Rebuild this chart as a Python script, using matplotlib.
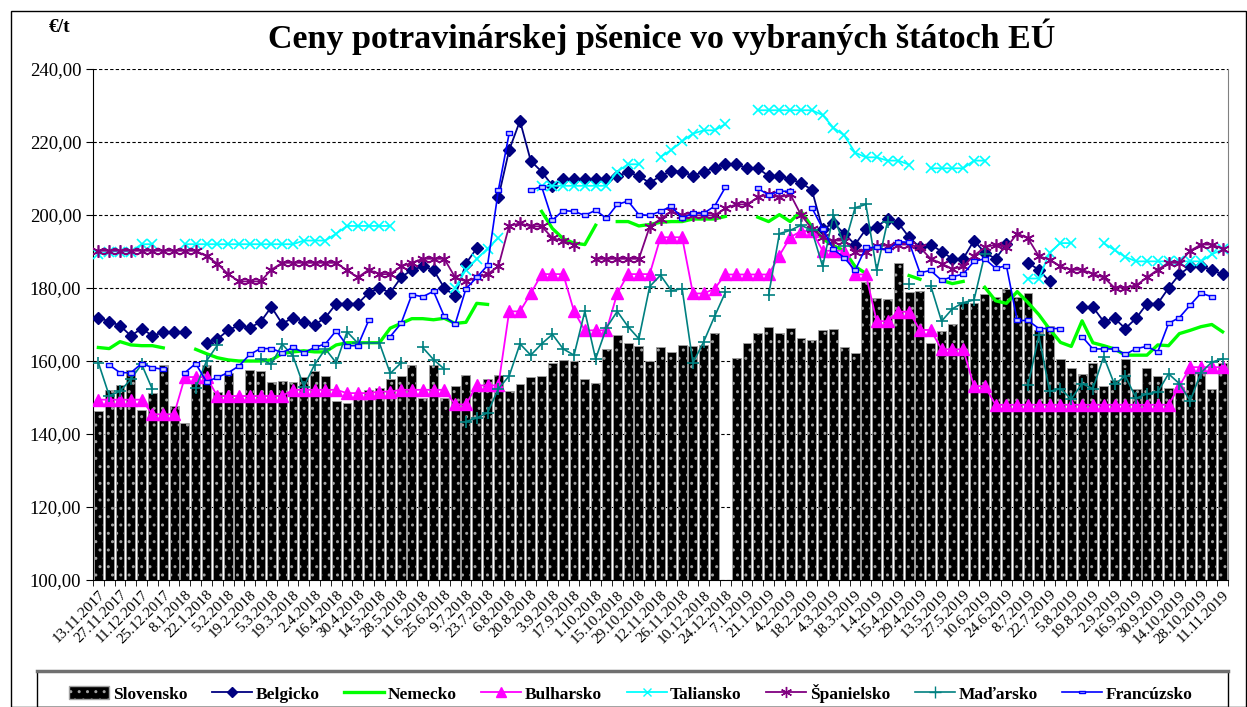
import matplotlib
matplotlib.use("Agg")
import matplotlib.pyplot as plt
import numpy as np
from matplotlib.patches import Rectangle, Patch
from matplotlib.lines import Line2D

nan = np.nan

# tyzdenne ceny €/t, 13.11.2017 - 11.11.2019 (105 tyzdnov)
slovensko = [146.3, 152.1, 153.4, 157.5, 146.7, 151.3, 159.0, 147.6, 143.1, 154.4,
             159.0, 151.6, 156.7, 150.0, 157.4, 157.2, 154.2, 154.5, 154.2, 155.5,
             157.3, 156.0, 149.1, 148.5, 149.6, 152.1, 152.7, 155.2, 155.9, 159.0,
             150.0, 159.0, 149.8, 153.1, 156.2, 151.9, 155.2, 156.2, 151.7, 153.6,
             155.5, 155.9, 159.5, 160.4, 159.9, 155.0, 154.0, 163.4, 167.0, 164.9,
             164.2, 160.1, 163.9, 162.5, 164.4, 164.2, 164.4, 167.8, nan, 160.9,
             164.8, 167.6, 169.4, 167.8, 169.1, 166.2, 165.8, 168.5, 168.8, 163.9,
             162.1, 181.7, 177.3, 176.9, 186.8, 179.0, 179.3, 164.9, 168.1, 170.1,
             176.1, 176.0, 178.4, 177.5, 179.8, 177.4, 178.5, 168.6, 169.6, 160.6,
             158.1, 156.5, 159.5, 153.1, 154.8, 160.6, 152.4, 158.1, 155.9, 152.7,
             153.0, 157.1, 157.8, 152.4, 159.5]

belgicko = [171.9, 170.8, 169.7, 166.9, 168.9, 166.9, 167.9, 167.9, 167.9, nan,
            165.0, 166.0, 168.4, 169.8, 169.1, 170.7, 174.8, 170.2, 171.9, 170.8,
            169.9, 171.9, 175.7, 175.7, 175.7, 178.7, 180.0, 178.7, 182.9, 185.0,
            185.9, 185.0, 180.0, 177.8, 186.7, 190.9, nan, 204.8, 217.8, 225.8,
            214.8, 211.9, 208.0, 209.8, 209.8, 209.8, 209.8, 209.8, 210.7, 211.7,
            210.7, 208.8, 210.7, 212.0, 211.9, 210.7, 211.9, 213.0, 214.0, 214.0,
            212.8, 212.8, 210.7, 210.7, 209.8, 208.8, 206.9, 196.1, 197.8, 194.9,
            191.9, 196.1, 196.8, 198.9, 197.8, 193.9, 191.1, 191.9, 190.0, 188.0,
            188.0, 193.0, 189.7, 188.0, 192.0, nan, 186.9, 185.0, 181.8, nan,
            nan, 174.8, 174.8, 170.8, 171.7, 168.9, 171.7, 175.7, 175.7, 180.0,
            183.7, 185.9, 185.9, 185.0, 183.7]

nemecko = [163.7, 163.4, 165.3, 164.4, 164.2, 164.2, 163.6, nan, nan, 163.2,
           162.0, 160.9, 160.3, 160.0, 160.0, 160.0, 160.3, 162.0, 162.5, 162.8,
           162.5, 162.5, 164.4, 165.0, 165.0, 165.0, 165.0, 169.0, 170.3, 171.6,
           171.6, 171.3, 171.7, 170.3, 170.6, 175.8, 175.5, nan, nan, nan,
           nan, 201.0, 196.3, 193.5, 192.3, 191.9, 197.2, nan, 198.2, 198.2,
           197.0, 197.4, 198.0, 198.2, 198.2, 198.9, 198.9, 198.9, 199.6, nan,
           nan, 199.4, 198.2, 200.1, 198.2, 201.0, 196.8, 193.5, 191.6, 190.2,
           185.9, 184.0, nan, nan, nan, 183.4, 182.4, nan, 182.1, 181.2,
           181.8, nan, 180.2, 176.5, 175.8, 179.0, 176.0, 172.7, 168.7, 165.1,
           164.0, 171.0, 165.0, 164.2, 163.3, 161.6, 161.6, 161.6, 164.4, 164.2,
           167.5, 168.4, 169.4, 170.0, 168.0]

bulharsko = [149.4, 149.4, 149.4, 149.4, 149.4, 145.4, 145.4, 145.4, 155.6, 155.6,
             155.6, 150.4, 150.4, 150.4, 150.4, 150.4, 150.4, 150.4, 152.1, 152.1,
             152.1, 152.1, 152.1, 151.2, 151.2, 151.2, 151.6, 151.6, 152.1, 152.1,
             152.1, 152.1, 152.1, 148.1, 148.1, 153.3, 153.3, 153.3, 173.6, 173.6,
             178.5, 183.8, 183.8, 183.8, 173.6, 168.4, 168.4, 168.4, 178.5, 183.8,
             183.8, 183.8, 193.9, 193.9, 193.9, 178.5, 178.5, 179.8, 183.7, 183.7,
             183.7, 183.7, 183.7, 188.9, 193.9, 195.6, 195.6, 190.2, 190.2, 190.2,
             183.7, 183.7, 170.9, 170.9, 173.5, 173.5, 168.5, 168.5, 163.2, 163.2,
             163.2, 153.1, 153.1, 148.0, 148.0, 148.0, 148.0, 148.0, 148.0, 148.0,
             148.0, 148.0, 148.0, 148.0, 148.0, 148.0, 148.0, 148.0, 148.0, 148.0,
             153.1, 158.3, 158.3, 158.3, 158.3]

taliansko = [189.2, 190.0, 190.0, 190.0, 192.0, 192.0, nan, nan, 192.0, 192.0,
             192.0, 192.0, 192.0, 192.0, 192.0, 192.0, 192.0, 192.0, 192.0, 193.0,
             193.0, 193.0, 194.9, 197.0, 197.0, 197.0, 197.0, 197.0, nan, nan,
             nan, nan, nan, 180.0, 185.0, 188.0, 190.8, 193.7, nan, nan,
             nan, 208.0, 208.0, 208.0, 208.0, 208.0, 208.0, 208.0, 211.9, 213.9,
             213.9, nan, 215.9, 217.8, 220.2, 222.3, 223.2, 223.2, 224.9, nan,
             nan, 228.7, 228.7, 228.7, 228.7, 228.7, 228.7, 227.4, 223.9, 221.8,
             217.1, 215.8, 215.8, 214.9, 214.9, 213.8, nan, 212.8, 212.8, 212.8,
             212.8, 214.9, 214.9, nan, nan, nan, 182.6, 182.6, 189.7, 192.3,
             192.3, nan, nan, 192.3, 190.4, 188.5, 187.3, 187.3, 187.3, 187.3,
             187.3, 187.3, 187.3, 189.2, 190.6]

spanielsko = [190.2, 190.2, 190.2, 190.2, 190.2, 190.2, 190.2, 190.2, 190.2, 190.2,
              188.7, 186.7, 183.8, 181.8, 181.8, 181.8, 185.0, 186.9, 186.9, 186.9,
              186.9, 186.9, 186.9, 184.8, 182.9, 185.0, 183.8, 183.8, 185.9, 186.9,
              188.0, 188.0, 188.0, 182.9, 181.8, 182.9, 183.8, 185.9, 197.0, 197.7,
              196.9, 196.9, 193.7, 192.8, 191.9, nan, 188.0, 188.0, 188.0, 188.0,
              188.0, 196.8, 198.9, 201.0, 200.0, 199.9, 199.9, 199.9, 201.8, 202.9,
              202.9, 204.8, 205.7, 204.8, 205.7, 200.0, 196.3, 193.9, 193.0, 193.0,
              190.0, 190.0, 191.6, 191.6, 191.9, 191.9, 191.1, 188.0, 186.7, 185.2,
              185.9, 188.9, 191.1, 191.9, 191.1, 194.9, 193.6, 188.7, 187.8, 185.9,
              185.0, 185.0, 183.8, 182.9, 180.1, 180.1, 180.7, 182.9, 185.0, 186.9,
              186.9, 190.2, 191.9, 191.9, 190.8]

madarsko = [159.5, 150.5, 151.7, 155.0, 159.1, 152.2, nan, nan, nan, 152.7,
            160.0, 164.3, nan, nan, nan, 160.5, 159.1, 164.6, 161.4, 153.0,
            159.0, 163.3, 159.5, 168.0, 164.9, 164.9, 164.9, 156.6, 159.5, nan,
            163.7, 160.4, 157.8, nan, 143.4, 144.4, 145.8, 152.4, 155.9, 164.7,
            161.6, 164.7, 167.3, 163.3, 161.6, 173.6, 160.6, 169.1, 173.6, 169.4,
            166.1, 180.4, 183.5, 179.3, 179.8, 159.5, 165.3, 172.2, 178.8, nan,
            nan, nan, 178.0, 194.9, 195.8, 197.2, 195.8, 185.9, 200.0, 191.6,
            202.0, 202.9, 184.8, 198.2, nan, 181.2, nan, 180.6, 170.9, 174.3,
            176.0, 176.7, 189.2, nan, nan, nan, 153.3, 167.0, 151.7, 152.4,
            149.6, 153.8, 152.4, 161.2, 153.6, 155.9, 149.8, 151.0, 151.5, 156.5,
            153.8, 149.1, 156.8, 159.7, 160.6]

francuzsko = [nan, 158.9, 156.8, 156.8, 159.3, 158.2, 157.7, nan, 156.8, 159.3,
              154.3, 155.5, 156.8, 158.6, 161.8, 163.4, 163.4, 162.3, 163.7, 162.3,
              163.7, 164.7, 168.3, 164.2, 164.2, 171.1, nan, 166.7, 170.3, 178.2,
              177.6, 179.1, 172.2, 170.1, 179.8, 182.9, 186.2, 206.8, 222.4, nan,
              206.8, 207.8, 198.6, 201.2, 201.0, 199.9, 201.3, 199.1, 202.9, 203.8,
              200.1, 199.9, 201.0, 202.4, 199.1, 200.5, 200.5, 202.4, 207.6, nan,
              nan, 207.3, 205.5, 206.5, 206.5, nan, 202.0, 196.3, 190.6, 188.3,
              184.8, 191.1, 191.1, 190.3, 192.7, 192.5, 184.2, 184.8, 182.1, 183.1,
              183.8, 187.3, 188.0, 185.4, 186.1, 171.1, 171.1, 168.9, 168.9, 168.9,
              nan, 166.7, 163.3, 163.3, 163.3, 161.8, 163.4, 164.0, 162.5, 170.3,
              171.9, 175.3, 178.6, 177.6, nan]

datumy = ["13.11.2017", "27.11.2017", "11.12.2017", "25.12.2017", "8.1.2018", "22.1.2018",
          "5.2.2018", "19.2.2018", "5.3.2018", "19.3.2018", "2.4.2018", "16.4.2018",
          "30.4.2018", "14.5.2018", "28.5.2018", "11.6.2018", "25.6.2018", "9.7.2018",
          "23.7.2018", "6.8.2018", "20.8.2018", "3.9.2018", "17.9.2018", "1.10.2018",
          "15.10.2018", "29.10.2018", "12.11.2018", "26.11.2018", "10.12.2018", "24.12.2018",
          "7.1.2019", "21.1.2019", "4.2.2019", "18.2.2019", "4.3.2019", "18.3.2019",
          "1.4.2019", "15.4.2019", "29.4.2019", "13.5.2019", "27.5.2019", "10.6.2019",
          "24.6.2019", "8.7.2019", "22.7.2019", "5.8.2019", "19.8.2019", "2.9.2019",
          "16.9.2019", "30.9.2019", "14.10.2019", "28.10.2019", "11.11.2019"]

y_ticks = [100, 120, 140, 160, 180, 200, 220, 240]
y_labels = ["100,00", "120,00", "140,00", "160,00", "180,00", "200,00", "220,00", "240,00"]

plt.rcParams['font.family'] = ['Liberation Serif', 'DejaVu Serif']
plt.rcParams['hatch.linewidth'] = 1.0

W, H = 1247, 707
fig = plt.figure(figsize=(W / 100, H / 100), dpi=100)
ax = fig.add_axes([93 / W, 1 - 580 / H, (1228 - 93) / W, (580 - 69) / H])

x = np.arange(len(slovensko))

ax.bar(x, slovensko, width=0.82, color='black', edgecolor='#a0a0a0',
       hatch='..', linewidth=0.6, zorder=2)

rect_marker = [(-1.3, -0.6), (1.3, -0.6), (1.3, 0.6), (-1.3, 0.6), (-1.3, -0.6)]

ax.plot(x, belgicko, color='#000080', marker='D', markersize=6, lw=1.3, zorder=3)
ax.plot(x, nemecko, color='#00ff00', lw=2.4, zorder=4)
ax.plot(x, bulharsko, color='#ff00ff', marker='^', markersize=8, lw=1.3, zorder=5)
ax.plot(x, taliansko, color='#00ffff', marker='x', markersize=7, mew=1.2, lw=1.3, zorder=6)
ax.plot(x, spanielsko, color='#800080', marker=(6, 2, 0), markersize=9, mew=1.2, lw=1.3, zorder=7)
ax.plot(x, madarsko, color='#008080', marker='+', markersize=9, mew=1.2, lw=1.2, zorder=8)
ax.plot(x, francuzsko, color='#0000ff', marker=rect_marker, markersize=5, mfc='#ccccff',
        mec='#0000ff', mew=1.0, lw=1.2, zorder=9)

ax.set_xlim(-0.5, len(x) - 0.5)
ax.set_ylim(100, 240)
ax.set_yticks(y_ticks)
ax.set_yticklabels(y_labels, fontsize=13.5)
ax.yaxis.grid(True, linestyle=(0, (3, 2)), color='black', linewidth=0.8)
ax.set_axisbelow(True)

ax.set_xticks(x[::2])
ax.set_xticklabels(datumy, rotation=45, ha='right', rotation_mode='anchor', fontsize=11)
ax.set_xticks(np.arange(-0.5, len(x), 1), minor=True)
ax.tick_params(axis='x', which='major', length=0, pad=6)
ax.tick_params(axis='x', which='minor', length=4, direction='out')
ax.tick_params(axis='y', length=5, direction='out')

ax.spines['top'].set_visible(False)
ax.spines['right'].set_color('#808080')
ax.spines['left'].set_color('black')
ax.spines['bottom'].set_color('black')

fig.text(662 / W, 1 - 37 / H, "Ceny potravinárskej pšenice vo vybraných štátoch EÚ",
         ha='center', va='center', fontsize=24.5, fontweight='bold')
fig.text(60 / W, 1 - 28 / H, "€/t", ha='center', va='center', fontsize=14, fontweight='bold')

# ramik okolo grafu
fig.patches.append(Rectangle((11 / W, 0), (1246 - 11) / W, (H - 11) / H, transform=fig.transFigure,
                             fill=False, edgecolor='black', linewidth=1.0))

# ramik legendy
fig.patches.append(Rectangle((37 / W, 0), (1228 - 37) / W, (H - 671) / H, transform=fig.transFigure,
                             fill=False, edgecolor='black', linewidth=1.0))
fig.add_artist(Line2D([37 / W, 1228 / W], [1 - 671 / H, 1 - 671 / H], color='#707070',
                      lw=2.5, transform=fig.transFigure))

handles = [
    Patch(facecolor='black', edgecolor='#a0a0a0', hatch='..'),
    Line2D([], [], color='#000080', marker='D', markersize=5, lw=1.3),
    Line2D([], [], color='#00ff00', lw=2.4),
    Line2D([], [], color='#ff00ff', marker='^', markersize=7, lw=1.3),
    Line2D([], [], color='#00ffff', marker='x', markersize=6, lw=1.3),
    Line2D([], [], color='#800080', marker=(6, 2, 0), markersize=8, lw=1.3),
    Line2D([], [], color='#008080', marker='+', markersize=8, lw=1.2),
    Line2D([], [], color='#0000ff', marker=rect_marker, markersize=4, mfc='#ccccff', lw=1.2),
]
labels = ["Slovensko", "Belgicko", "Nemecko", "Bulharsko", "Taliansko",
          "Španielsko", "Maďarsko", "Francúzsko"]
leg = fig.legend(handles, labels, loc='lower left', ncol=8, mode='expand',
                 bbox_to_anchor=(66 / W, 1 - 706 / H, (1196 - 66) / W, 30 / H),
                 prop={'weight': 'bold', 'size': 12.5}, frameon=False,
                 handlelength=2.3, handletextpad=0.2, borderaxespad=0, borderpad=0.2)

fig.savefig("out.png", dpi=100)
